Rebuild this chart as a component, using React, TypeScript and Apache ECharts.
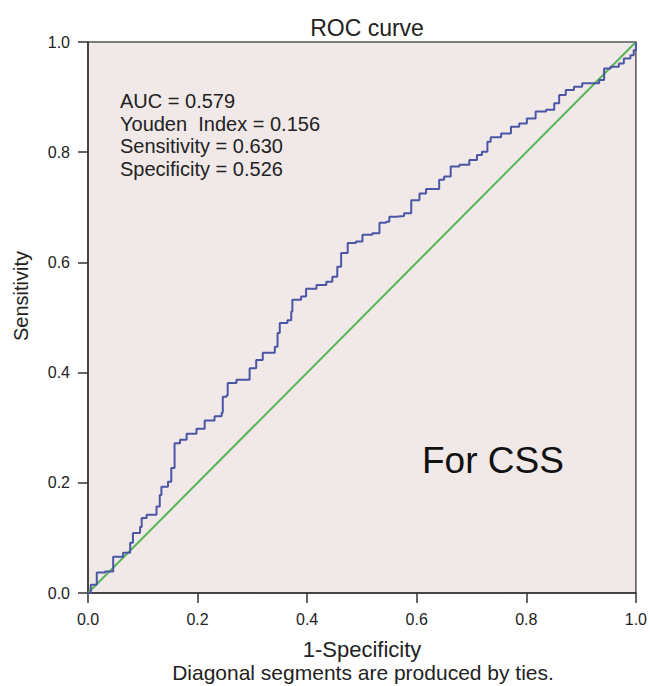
import React, { useEffect, useRef } from "react";
import * as echarts from "echarts";

const rocX = [0, 0.005, 0.016, 0.031, 0.046, 0.064, 0.077, 0.082, 0.095, 0.098, 0.107, 0.125, 0.131, 0.134, 0.146, 0.152, 0.158, 0.168, 0.18, 0.198, 0.213, 0.231, 0.244, 0.246, 0.253, 0.255, 0.271, 0.295, 0.307, 0.319, 0.341, 0.346, 0.35, 0.364, 0.371, 0.373, 0.389, 0.398, 0.417, 0.435, 0.446, 0.455, 0.462, 0.474, 0.489, 0.501, 0.519, 0.532, 0.544, 0.55, 0.562, 0.577, 0.59, 0.59, 0.605, 0.617, 0.632, 0.641, 0.65, 0.662, 0.678, 0.696, 0.71, 0.719, 0.729, 0.735, 0.754, 0.772, 0.787, 0.801, 0.817, 0.836, 0.851, 0.86, 0.872, 0.887, 0.902, 0.92, 0.933, 0.942, 0.954, 0.969, 0.978, 0.99, 0.996, 1.0];
const rocY = [0, 0.015, 0.037, 0.039, 0.066, 0.073, 0.091, 0.109, 0.12, 0.136, 0.142, 0.157, 0.178, 0.193, 0.202, 0.227, 0.272, 0.278, 0.289, 0.298, 0.313, 0.321, 0.327, 0.356, 0.359, 0.381, 0.387, 0.408, 0.423, 0.436, 0.447, 0.472, 0.49, 0.495, 0.511, 0.532, 0.538, 0.552, 0.559, 0.565, 0.574, 0.592, 0.617, 0.635, 0.638, 0.65, 0.653, 0.672, 0.674, 0.683, 0.684, 0.689, 0.695, 0.713, 0.725, 0.733, 0.733, 0.75, 0.756, 0.774, 0.777, 0.786, 0.795, 0.801, 0.819, 0.827, 0.834, 0.846, 0.852, 0.861, 0.874, 0.877, 0.889, 0.904, 0.913, 0.919, 0.925, 0.925, 0.931, 0.952, 0.955, 0.961, 0.97, 0.976, 0.985, 1.0];
const refX = [0, 1];
const refY = [0, 1];
const statLines = ["AUC = 0.579", "Youden  Index = 0.156", "Sensitivity = 0.630", "Specificity = 0.526"];

export default function App() {
  const ref = useRef<HTMLDivElement>(null);
  useEffect(() => {
    document.body.style.margin = "0";
    const chart = echarts.init(ref.current!, null, { renderer: "svg" });
    const font = "Liberation Sans, Arial, sans-serif";
    chart.setOption({
      animation: false,
      backgroundColor: "#ffffff",
      title: {
        text: "ROC curve",
        left: 362,
        textAlign: "center",
        top: 11,
        textStyle: { fontFamily: font, fontSize: 23, fontWeight: "normal", color: "#222" },
      },
      grid: {
        left: 88,
        right: 13,
        top: 42,
        bottom: 93,
        show: true,
        backgroundColor: "#f0e9e8",
        borderColor: "#555",
        borderWidth: 1.5,
      },
      xAxis: {
        type: "value",
        min: 0,
        max: 1,
        interval: 0.2,
        axisLine: { show: true, lineStyle: { color: "#333", width: 1.5 } },
        axisTick: { show: true, length: 10, lineStyle: { color: "#333", width: 1.5 } },
        axisLabel: { fontFamily: font, fontSize: 16, color: "#222", margin: 18, formatter: (v: number) => v.toFixed(1) },
        splitLine: { show: false },
      },
      yAxis: {
        type: "value",
        min: 0,
        max: 1,
        interval: 0.2,
        axisLine: { show: true, lineStyle: { color: "#333", width: 1.5 } },
        axisTick: { show: true, length: 10, lineStyle: { color: "#333", width: 1.5 } },
        axisLabel: { fontFamily: font, fontSize: 16, color: "#222", margin: 18, formatter: (v: number) => v.toFixed(1) },
        splitLine: { show: false },
      },
      series: [
        {
          type: "line",
          data: refX.map((x, i) => [x, refY[i]]),
          showSymbol: false,
          lineStyle: { color: "#55b555", width: 2 },
          z: 2,
        },
        {
          type: "line",
          data: rocX.map((x, i) => [x, rocY[i]]),
          showSymbol: false,
          step: "end",
          lineStyle: { color: "#4b55a5", width: 2 },
          z: 3,
        },
      ],
      graphic: [
        ...statLines.map((t, i) => ({
          type: "text",
          x: 120,
          y: 101 + i * 22.6,
          style: { text: t, fontFamily: font, fontSize: 20, fill: "#222", verticalAlign: "middle" },
        })),
        {
          type: "text",
          x: 422,
          y: 460,
          style: { text: "For CSS", fontFamily: font, fontSize: 37, fill: "#111", verticalAlign: "middle" },
        },
        {
          type: "text",
          x: 21,
          y: 296,
          rotation: Math.PI / 2,
          style: { text: "Sensitivity", fontFamily: font, fontSize: 20, fill: "#222", align: "center", verticalAlign: "middle" },
        },
        {
          type: "text",
          x: 362,
          y: 649,
          style: { text: "1-Specificity", fontFamily: font, fontSize: 22, fill: "#222", align: "center", verticalAlign: "middle" },
        },
        {
          type: "text",
          x: 363,
          y: 672,
          style: { text: "Diagonal segments are produced by ties.", fontFamily: font, fontSize: 21, fill: "#222", align: "center", verticalAlign: "middle" },
        },
      ],
    });
    return () => chart.dispose();
  }, []);
  return <div ref={ref} style={{ width: 650, height: 686 }} />;
}
